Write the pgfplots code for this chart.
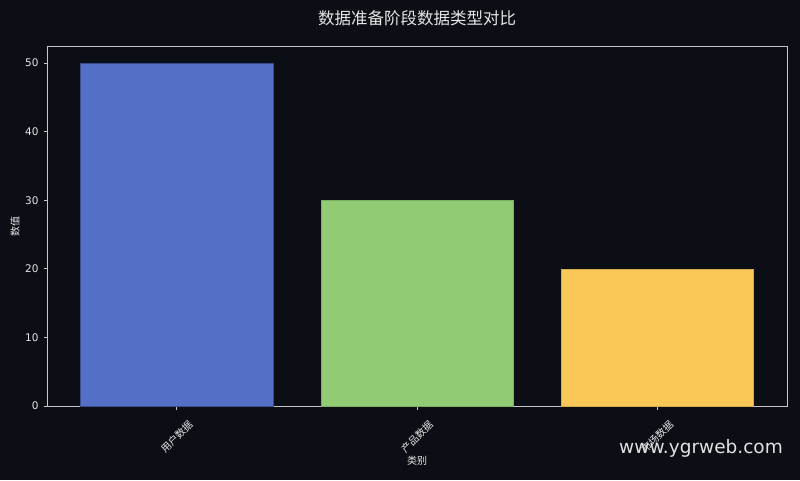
\documentclass[border=0pt]{standalone}
\usepackage{pgfplots}
\pgfplotsset{compat=1.18}
\usepackage{fontspec}
\setmainfont{DejaVu Sans}
\newfontfamily\cjk{Noto Sans CJK SC}
\definecolor{bg}{HTML}{0B0E14}
\definecolor{fg}{HTML}{E6E6E6}
\definecolor{frame}{HTML}{C8C8C8}
\definecolor{c1}{HTML}{5470C6}
\definecolor{c2}{HTML}{91CC75}
\definecolor{c3}{HTML}{FAC858}
\begin{document}
\begin{tikzpicture}
  \fill[bg] (-47pt,-74pt) rectangle (753pt,406pt);
  \useasboundingbox (-47pt,-74pt) rectangle (753pt,406pt);
  \begin{axis}[
      at={(0pt,0pt)}, anchor=south west,
      scale only axis,
      width=740pt, height=360pt,
      xmin=-0.54, xmax=2.54,
      ymin=0, ymax=52.5,
      ybar, bar width=0.8,
      xtick={0,1,2},
      xticklabels={用户数据,产品数据,市场数据},
      ytick={0,10,20,30,40,50},
      tick pos=left,
      tick align=outside,
      major tick length=3.5pt,
      axis line style={frame, line width=0.8pt},
      every tick/.style={frame, line width=0.8pt},
      tick label style={fg, font=\fontsize{10.5}{12}\selectfont},
      yticklabel style={xshift=-1.5pt},
      xticklabel style={font=\cjk\fontsize{10}{12}\selectfont, yshift=-27pt, rotate=45, anchor=center},
      /pgf/number format/assume math mode=true,
    ]
    \addplot[fill=c1, draw=c1!70!black, bar shift=0pt] coordinates {(0,50)};
    \addplot[fill=c2, draw=c2!85!black, bar shift=0pt] coordinates {(1,30)};
    \addplot[fill=c3, draw=c3!85!black, bar shift=0pt] coordinates {(2,20)};
  \end{axis}
  \node[fg, font=\cjk\fontsize{16.5}{18}\selectfont] at (370pt,388pt) {数据准备阶段数据类型对比};
  \node[fg, font=\cjk\fontsize{10}{12}\selectfont, rotate=90] at (-32pt,180pt) {数值};
  \node[fg, font=\cjk\fontsize{10}{12}\selectfont] at (370pt,-55pt) {类别};
  \node[fg!95!gray, font=\fontsize{18.5}{22}\selectfont] at (654pt,-42pt) {www.ygrweb.com};
\end{tikzpicture}
\end{document}
